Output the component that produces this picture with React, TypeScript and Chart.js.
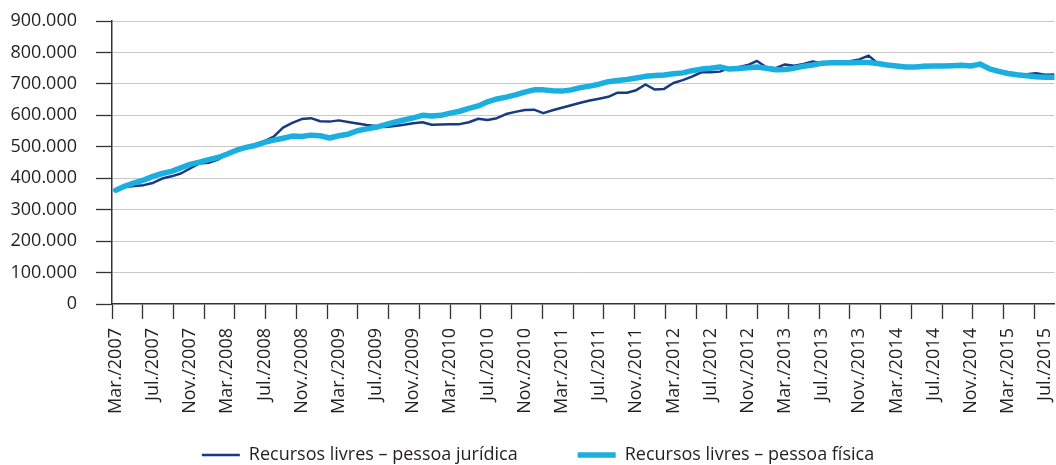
import React, { useEffect, useRef } from "react";
import { Chart, registerables } from "chart.js";

Chart.register(...registerables);

// Tick labels shown on the category axis (every 4th month, Mar./2007 .. Jul./2015)
const tickLabels = [
  "Mar./2007", "Jul./2007", "Nov./2007",
  "Mar./2008", "Jul./2008", "Nov./2008",
  "Mar./2009", "Jul./2009", "Nov./2009",
  "Mar./2010", "Jul./2010", "Nov./2010",
  "Mar./2011", "Jul./2011", "Nov./2011",
  "Mar./2012", "Jul./2012", "Nov./2012",
  "Mar./2013", "Jul./2013", "Nov./2013",
  "Mar./2014", "Jul./2014", "Nov./2014",
  "Mar./2015", "Jul./2015",
];
const monthsPerLabel = 4;

const seriesNames = [
  "Recursos livres – pessoa jurídica",
  "Recursos livres – pessoa física",
];

// Monthly balances, Mar./2007 .. Aug./2015 (R$ milhões)
const pessoaJuridica = [
  362000, 372000, 375000, 378000, 385000, 399000, 406000, 415000, 431000, 447000,
  449000, 459000, 477000, 489000, 498000, 508000, 518000, 532000, 561000, 576000,
  588000, 591000, 581000, 580000, 584000, 579000, 574000, 569000, 566000, 563000,
  566000, 570000, 575000, 578000, 570000, 571000, 572000, 572000, 578000, 589000,
  585000, 591000, 604000, 611000, 617000, 618000, 607000, 616000, 624000, 632000,
  640000, 647000, 653000, 659000, 672000, 672000, 680000, 698000, 682000, 684000,
  703000, 712000, 723000, 737000, 737000, 739000, 750000, 753000, 760000, 773000,
  753000, 750000, 762000, 758000, 763000, 771000, 765000, 767000, 772000, 772000,
  778000, 790000, 765000, 760000, 757000, 754000, 754000, 760000, 757000, 757000,
  758000, 761000, 757000, 767000, 748000, 740000, 733000, 729000, 731000, 734000,
  729000, 730000,
];

const pessoaFisica = [
  362000, 375000, 385000, 394000, 406000, 415000, 422000, 433000, 444000, 451000,
  459000, 466000, 477000, 489000, 498000, 504000, 514000, 521000, 527000, 534000,
  533000, 537000, 535000, 528000, 535000, 540000, 551000, 557000, 562000, 570000,
  578000, 585000, 592000, 600000, 598000, 600000, 607000, 613000, 622000, 630000,
  643000, 652000, 658000, 665000, 674000, 681000, 681000, 678000, 677000, 681000,
  688000, 693000, 699000, 707000, 711000, 714000, 719000, 724000, 727000, 728000,
  732000, 735000, 742000, 747000, 750000, 754000, 747000, 749000, 751000, 754000,
  750000, 745000, 746000, 750000, 756000, 760000, 766000, 767000, 767000, 767000,
  768000, 768000, 765000, 760000, 757000, 754000, 754000, 756000, 757000, 757000,
  758000, 759000, 757000, 763000, 748000, 740000, 733000, 729000, 726000, 723000,
  721000, 721000,
];

const yMin = 0;
const yMax = 900000;
const yStep = 100000;

const colorPJ = "#183a84";
const colorPF = "#1aafe0";
const textColor = "#231f20";
const axisColor = "#333333";
const gridColor = "#c8c8c8";

const fmt = (v: number) =>
  String(Math.round(v)).replace(/\B(?=(\d{3})+(?!\d))/g, ".");

// lets the rotated month labels run into the space below their (shortened) axis box
const labelAreaPlugin = {
  id: "labelArea",
  afterLayout(chart: any) {
    const s = chart.scales.x;
    if (s) s.bottom = chart.height;
  },
};

export default function App() {
  const ref = useRef<HTMLCanvasElement | null>(null);

  useEffect(() => {
    if (!ref.current) return;
    const font = { family: "'Open Sans', sans-serif", size: 18 };
    const toPoints = (arr: number[]) => arr.map((v, i) => ({ x: i, y: v }));
    const lastIndex = pessoaJuridica.length - 1;

    const chart = new Chart(ref.current, {
      type: "line",
      data: {
        datasets: [
          {
            label: seriesNames[0],
            data: toPoints(pessoaJuridica),
            borderColor: colorPJ,
            backgroundColor: colorPJ,
            borderWidth: 2.5,
            pointRadius: 0,
            pointStyle: "line",
            tension: 0,
            borderJoinStyle: "round",
            borderCapStyle: "butt",
            order: 2,
            xAxisID: "x",
            yAxisID: "y",
          },
          {
            label: seriesNames[1],
            data: toPoints(pessoaFisica),
            borderColor: colorPF,
            backgroundColor: colorPF,
            borderWidth: 5.5,
            pointRadius: 0,
            pointStyle: "line",
            tension: 0,
            borderJoinStyle: "round",
            borderCapStyle: "round",
            order: 1,
            xAxisID: "x",
            yAxisID: "y",
          },
        ],
      },
      plugins: [labelAreaPlugin],
      options: {
        responsive: false,
        animation: false,
        devicePixelRatio: 1,
        layout: { padding: { top: 21, left: 0, right: 0, bottom: 0 } },
        plugins: {
          tooltip: { enabled: false },
          legend: {
            position: "bottom",
            labels: {
              font,
              color: textColor,
              usePointStyle: true,
              pointStyle: "line",
              pointStyleWidth: 38,
              padding: 60,
              sort: (a: any, b: any) => a.datasetIndex - b.datasetIndex,
            },
          },
        },
        scales: {
          x: {
            type: "linear",
            position: "bottom",
            weight: 1,
            min: -0.4,
            max: lastIndex,
            bounds: "data",
            grid: { display: false, drawTicks: false },
            border: { display: false },
            ticks: {
              autoSkip: false,
              minRotation: 90,
              maxRotation: 90,
              padding: 9,
              font,
              color: textColor,
              callback: (v: any) => tickLabels[Number(v) / monthsPerLabel] ?? "",
            },
            afterBuildTicks: (s: any) => {
              s.ticks = tickLabels.map((_, k) => ({ value: k * monthsPerLabel }));
            },
            afterFit: (s: any) => {
              s.height = 67;
            },
          },
          xt: {
            type: "linear",
            position: "bottom",
            weight: 0,
            min: 0,
            max: 30.65,
            bounds: "data",
            grid: {
              drawOnChartArea: false,
              drawTicks: true,
              tickLength: 15,
              tickColor: axisColor,
              tickWidth: 1.3,
            },
            border: { display: true, color: axisColor, width: 1.5 },
            ticks: { display: false },
            afterBuildTicks: (s: any) => {
              s.ticks = Array.from({ length: 31 }, (_, k) => ({ value: k }));
            },
          },
          y: {
            type: "linear",
            position: "left",
            min: yMin,
            max: yMax,
            ticks: {
              stepSize: yStep,
              padding: 19,
              font,
              color: textColor,
              callback: (v: any) => fmt(Number(v)),
            },
            grid: {
              color: (ctx: any) =>
                ctx.tick && ctx.tick.value === 0 ? "rgba(0,0,0,0)" : gridColor,
              lineWidth: 1,
              tickColor: axisColor,
              tickLength: 16,
              tickWidth: 1.3,
            },
            border: { color: axisColor, width: 1.5 },
            afterFit: (s: any) => {
              s.width = 112;
              s.paddingTop = 0;
              s.paddingBottom = 0;
            },
          },
          yr: {
            type: "linear",
            position: "right",
            display: true,
            grid: { display: false, drawTicks: false },
            border: { display: false },
            ticks: { display: false },
            afterFit: (s: any) => {
              s.width = 18.5;
            },
          },
        },
      },
    } as any);

    return () => chart.destroy();
  }, []);

  return (
    <div
      style={{
        position: "fixed",
        left: 0,
        top: 0,
        width: 1056,
        height: 465,
        overflow: "hidden",
        background: "#ffffff",
      }}
    >
      <canvas ref={ref} width={1076} height={474} style={{ display: "block" }} />
    </div>
  );
}
